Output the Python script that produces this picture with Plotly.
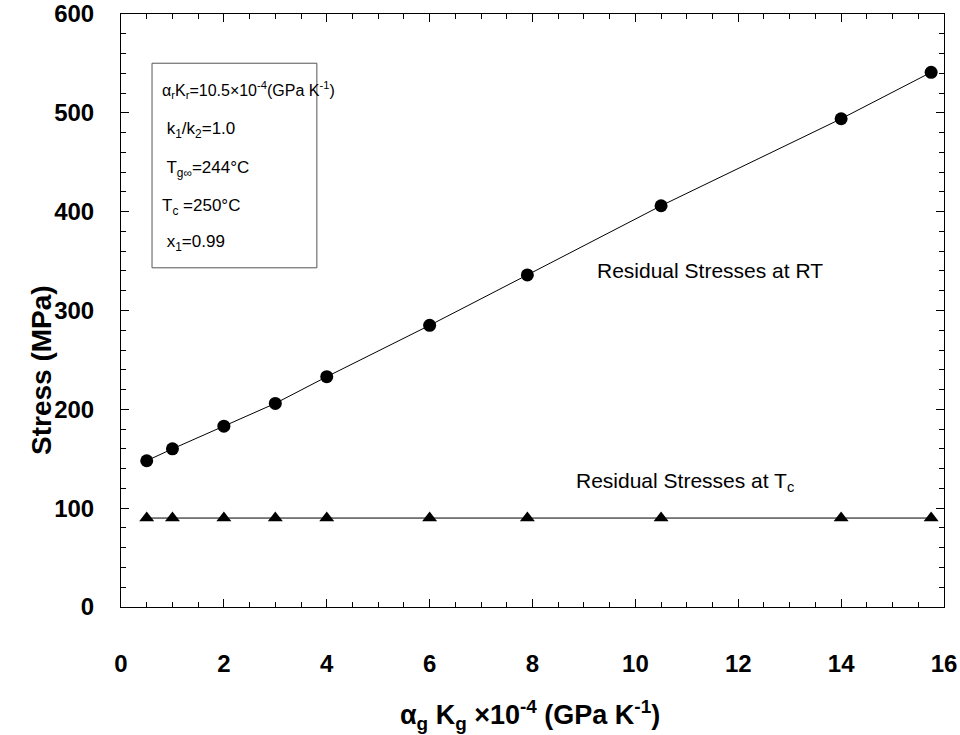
import plotly.graph_objects as go

# Thermal expansion-modulus product of the glass phase (x 10^-4 GPa/K)
alpha_k = [0.5, 1, 2, 3, 4, 6, 7.9, 10.5, 14, 15.75]
# Residual stress at room temperature (MPa)
stress_rt = [148, 160, 183, 206, 233, 285, 336, 406, 494, 541]
# Residual stress at the cure temperature Tc (MPa)
stress_tc = [90, 90, 90, 90, 90, 90, 90, 90, 90, 90]

x_ticks = [0, 2, 4, 6, 8, 10, 12, 14, 16]
y_ticks = [0, 100, 200, 300, 400, 500, 600]

param_lines = [
    "α<sub>r</sub>K<sub>r</sub>=10.5×10<sup>-4</sup>(GPa K<sup>-1</sup>)",
    " k<sub>1</sub>/k<sub>2</sub>=1.0",
    " T<sub>g∞</sub>=244°C",
    "T<sub>c</sub> =250°C",
    " x<sub>1</sub>=0.99",
]
param_sizes = [16, 17, 17, 17, 17]

FONT = "Liberation Sans, Arial, sans-serif"

fig = go.Figure()
fig.add_trace(go.Scatter(
    x=alpha_k, y=stress_rt, mode="lines+markers",
    line=dict(color="black", width=1),
    marker=dict(symbol="circle", size=13, color="black"),
    showlegend=False,
))
fig.add_trace(go.Scatter(
    x=alpha_k, y=stress_tc, mode="lines+markers",
    line=dict(color="black", width=1),
    marker=dict(symbol="triangle-up", size=13, color="black"),
    showlegend=False,
))

axis_common = dict(
    showline=True, linecolor="black", linewidth=1, mirror="ticks",
    ticks="inside", tickcolor="black", showgrid=False, zeroline=False,
    tickfont=dict(family=FONT, size=24, color="black", weight="bold"),
)

fig.update_xaxes(
    range=[0, 16], tickvals=x_ticks, ticklen=8,
    minor=dict(dtick=0.5, ticks="inside", ticklen=5, tickcolor="black"),
    ticklabelstandoff=35,
    **axis_common,
)
fig.update_yaxes(
    range=[0, 600], tickvals=y_ticks, ticklen=8,
    minor=dict(dtick=20, ticks="inside", ticklen=5, tickcolor="black"),
    ticklabelstandoff=21,
    **axis_common,
)

# Axis titles
fig.add_annotation(
    xref="paper", yref="paper", x=0.497, y=-0.182, yanchor="middle",
    text="α<sub>g</sub> K<sub>g</sub> ×10<sup>-4</sup> (GPa K<sup>-1</sup>)",
    showarrow=False,
    font=dict(family=FONT, size=27, color="black", weight="bold"),
)
fig.add_annotation(
    xref="paper", yref="paper", x=-0.117, y=0.40, textangle=-90,
    text="Stress (MPa)", showarrow=False,
    font=dict(family=FONT, size=28, color="black", weight="bold"),
)

# Parameter box
fig.add_shape(type="rect", xref="paper", yref="paper",
              x0=0.0377, x1=0.238, y0=0.572, y1=0.917,
              line=dict(color="#555555", width=1), fillcolor="white")
box_y = [0.893, 0.827, 0.761, 0.697, 0.614]
for txt, yy, sz in zip(param_lines, box_y, param_sizes):
    fig.add_annotation(xref="paper", yref="paper", x=0.047, y=yy,
                       text=txt, showarrow=False, xanchor="left",
                       font=dict(family=FONT, size=sz, color="black"))

fig.add_annotation(x=11.45, y=340, text="Residual Stresses at RT",
                   showarrow=False, font=dict(family=FONT, size=21, color="black"))
fig.add_annotation(x=10.97, y=126, text="Residual Stresses at T<sub>c</sub>",
                   showarrow=False, font=dict(family=FONT, size=21, color="black"))

fig.update_layout(
    width=960, height=735,
    margin=dict(l=121, r=16, t=14, b=128, autoexpand=False),
    plot_bgcolor="white", paper_bgcolor="white",
    font=dict(family=FONT, color="black"),
)

fig.write_html("out.html")
